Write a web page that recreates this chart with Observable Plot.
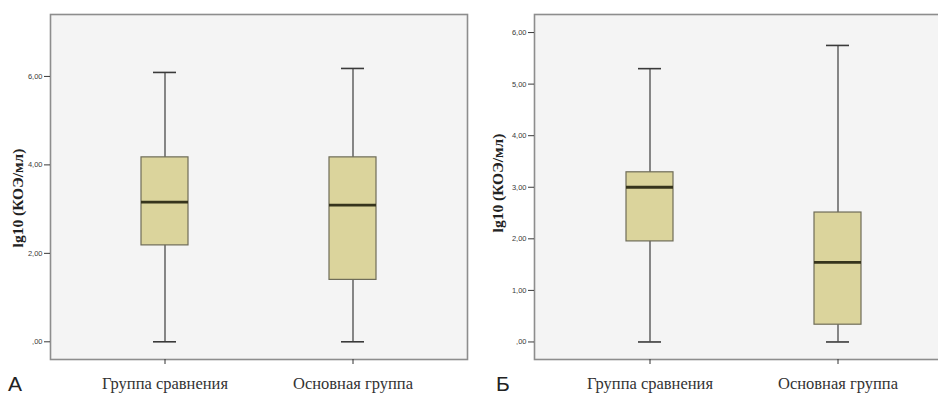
<!DOCTYPE html>
<html>
<head>
<meta charset="utf-8">
<script src="https://cdn.jsdelivr.net/npm/d3@7"></script>
<script src="https://cdn.jsdelivr.net/npm/@observablehq/plot@0.6"></script>
<style>
  html, body { margin: 0; padding: 0; background: #fff; }
  #wrap { position: relative; width: 938px; height: 394px; overflow: hidden; }
  .panel { position: absolute; top: 0; }
  .panel svg { max-width: none !important; display: block; }
  .letter { position: absolute; font-family: "Liberation Sans", Arial, sans-serif; font-size: 21px; color: #222; line-height: 1; }
</style>
</head>
<body>
<div id="wrap">
  <div class="panel" id="pA" style="left:0px; width:470px"></div>
  <div class="panel" id="pB" style="left:470px; width:496px"></div>
  <div class="letter" style="left:8px; top:373px;">А</div>
  <div class="letter" style="left:496px; top:373px;">Б</div>
</div>
<script>
// Categories
const groups = ["Группа сравнения", "Основная группа"];
const yLabel = "lg10 (КОЭ/мл)";

// Panel A summary statistics (lg10 КОЭ/мл)
const aMin    = [0.00, 0.00];
const aQ1     = [2.18, 1.40];
const aMedian = [3.16, 3.09];
const aQ3     = [4.17, 4.17];
const aMax    = [6.09, 6.18];
const aTicks  = [0, 2, 4, 6];

// Panel B summary statistics
const bMin    = [0.00, 0.00];
const bQ1     = [1.95, 0.335];
const bMedian = [3.00, 1.545];
const bQ3     = [3.29, 2.51];
const bMax    = [5.30, 5.75];
const bTicks  = [0, 1, 2, 3, 4, 5, 6];

function rows(mn, q1, med, q3, mx) {
  return groups.map((g, i) => ({group: g, min: mn[i], q1: q1[i], median: med[i], q3: q3[i], max: mx[i]}));
}

const fmt = d => d === 0 ? ",00" : d.toFixed(2).replace(".", ",");

function boxPanel(data, ticks, yDomain, opts) {
  return Plot.plot({
    width: opts.width,
    height: 394,
    marginLeft: opts.marginLeft,
    marginRight: opts.marginRight,
    marginTop: 14,
    marginBottom: 35,
    style: {background: "transparent", overflow: "visible", maxWidth: "none"},
    x: {domain: groups, paddingInner: 0.75, paddingOuter: 0.484, label: null},
    y: {domain: yDomain, label: null},
    marks: [
      Plot.frame({fill: "#f4f4f4", stroke: "none"}),
      Plot.ruleX(data, {x: "group", y1: "min", y2: "max", stroke: "#6a6a6a", strokeWidth: 1.6}),
      Plot.tickY(data, {x: "group", y: "max", stroke: "#3a3a3a", strokeWidth: 1.6, insetLeft: 12, insetRight: 12}),
      Plot.tickY(data, {x: "group", y: "min", stroke: "#3a3a3a", strokeWidth: 1.6, insetLeft: 12, insetRight: 12}),
      Plot.barY(data, {x: "group", y1: "q1", y2: "q3", fill: "#dbd49c", stroke: "#6e6c58", strokeWidth: 1.2}),
      Plot.tickY(data, {x: "group", y: "median", stroke: "#36341c", strokeWidth: 2.8}),
      Plot.frame({stroke: "#8d8d8d", strokeWidth: 1.6}),
      Plot.axisY({ticks: ticks, tickFormat: fmt, tickSize: 6, tickPadding: 2, fontSize: 7.5, fontFamily: "Liberation Sans, Arial, sans-serif", color: "#3a3a3a", label: null}),
      Plot.axisX({tickSize: 5, tickPadding: 13, fontSize: 16.5, fontFamily: "Liberation Serif, Times New Roman, serif", color: "#333", label: null}),
      Plot.text([yLabel], {frameAnchor: "left", textAnchor: "middle", lineAnchor: "middle", rotate: -90, dx: -opts.labelDx, dy: opts.labelDy, fontSize: 15.5, fontWeight: "bold", fontFamily: "Liberation Serif, Times New Roman, serif", fill: "#222"})
    ]
  });
}

document.getElementById("pA").appendChild(
  boxPanel(rows(aMin, aQ1, aMedian, aQ3, aMax), aTicks, [-0.40, 7.40], {width: 470, marginLeft: 50, marginRight: 3, labelDx: 32, labelDy: 11})
);
document.getElementById("pB").appendChild(
  boxPanel(rows(bMin, bQ1, bMedian, bQ3, bMax), bTicks, [-0.34, 6.35], {width: 496, marginLeft: 64, marginRight: 14, labelDx: 36, labelDy: -4})
);
</script>
</body>
</html>
